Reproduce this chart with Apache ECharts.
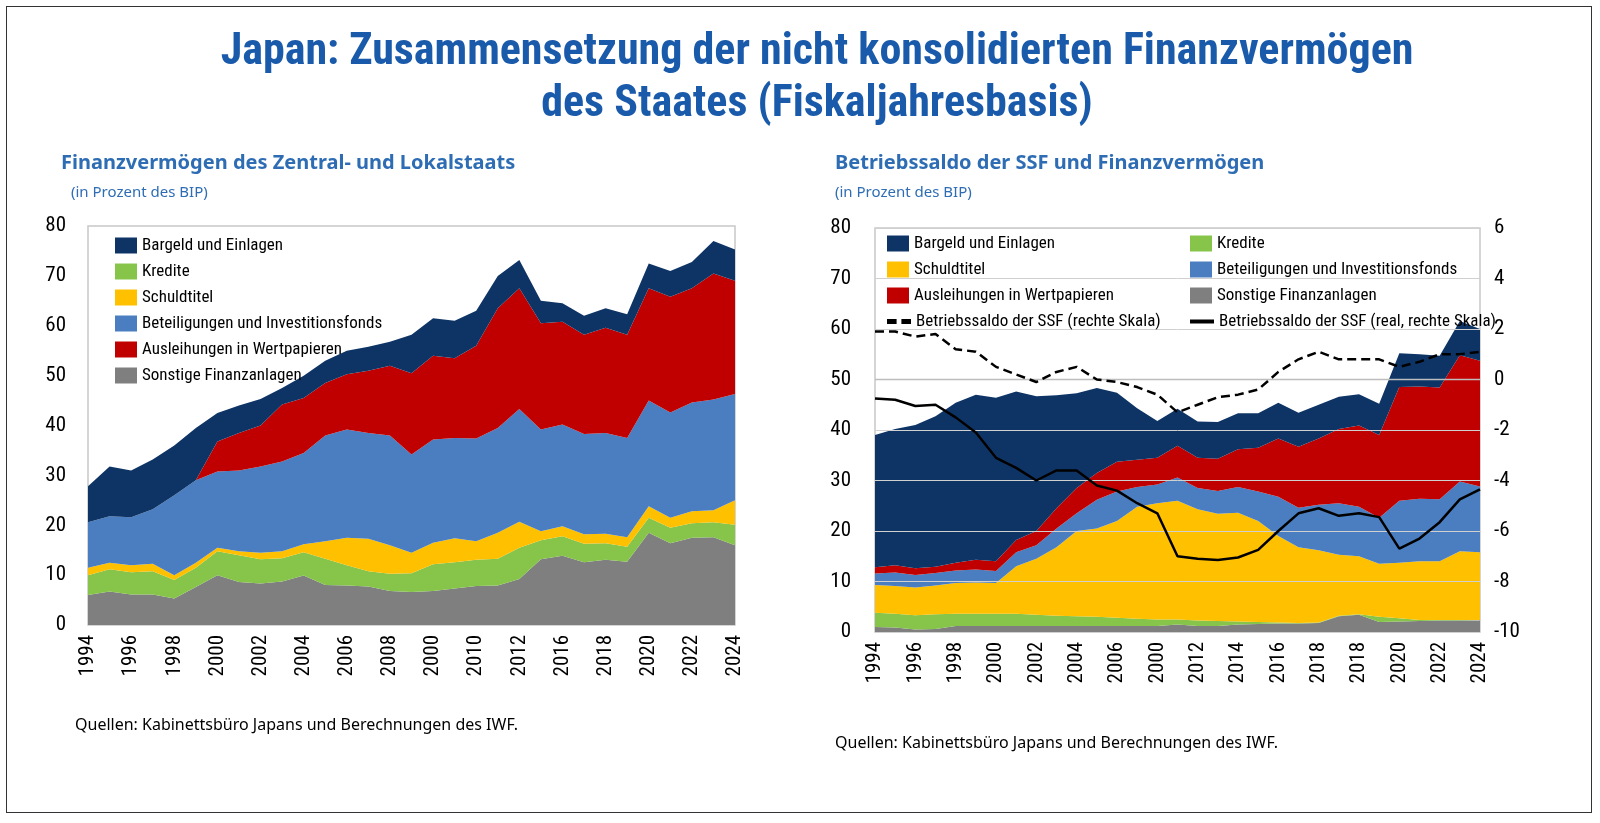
<!DOCTYPE html>
<html><head><meta charset="utf-8">
<script src="https://cdn.jsdelivr.net/npm/echarts@6/dist/echarts.min.js"></script>
<style>
html,body{margin:0;padding:0;background:#fff;overflow:hidden;width:100%;height:100%;}
#frame{position:absolute;left:6px;top:6px;right:8px;bottom:10px;border:1.5px solid #333;}
#chart{position:absolute;left:0;top:0;width:1600px;height:823px;}
</style></head>
<body><div id="frame"></div><div id="chart"></div>
<script>
var years = [];
for (var y = 1994; y <= 2024; y++) years.push(String(y));
// tick labels as printed (every second year)
var leftTicks = ['1994','','1996','','1998','','2000','','2002','','2004','','2006','','2008','','2000','','2010','','2012','','2016','','2018','','2020','','2022','','2024'];
var rightTicks = ['1994','','1996','','1998','','2000','','2002','','2004','','2006','','2000','','2012','','2014','','2016','','2018','','2018','','2020','','2022','','2024'];

var names = ['Sonstige Finanzanlagen','Kredite','Schuldtitel','Beteiligungen und Investitionsfonds','Ausleihungen in Wertpapieren','Bargeld und Einlagen'];
var colors = ['#7f7f7f','#86c44a','#ffc000','#4a7ec0','#c00000','#0e3466'];

// left chart: layer thickness, % of GDP
var leftSonstige = [6.0,6.7,6.1,6.1,5.3,7.6,10.0,8.6,8.3,8.7,9.9,8.0,7.9,7.7,6.8,6.6,6.8,7.3,7.8,7.9,9.2,13.2,13.9,12.6,13.1,12.7,18.5,16.4,17.5,17.6,16.0];
var leftKredite = [4.0,4.5,4.5,4.7,3.7,3.9,4.8,5.4,4.9,4.7,4.7,5.3,4.1,3.1,3.5,3.8,5.4,5.3,5.3,5.4,6.3,3.8,3.9,3.7,3.3,3.0,3.0,3.1,2.9,3.0,4.1];
var leftSchuld = [1.5,1.3,1.4,1.5,1.0,1.0,0.7,0.8,1.3,1.4,1.6,3.5,5.5,6.5,5.7,4.1,4.3,4.8,3.7,5.2,5.2,1.8,2.0,1.9,1.9,1.9,2.3,2.0,2.4,2.4,4.9];
var leftBeteil = [9.1,9.3,9.6,10.9,16.0,16.5,15.3,16.2,17.3,18.0,18.3,21.2,21.7,21.2,22.0,19.7,20.7,20.1,20.6,21.0,22.6,20.4,20.4,20.1,20.2,19.9,21.2,21.1,21.8,22.2,21.3];
var leftAusl = [0,0,0,0,0,0,6.0,7.5,8.2,11.4,11.0,10.5,11.1,12.5,14.0,16.3,16.8,16.0,18.6,24.0,24.2,21.3,20.6,19.9,21.1,20.7,22.5,23.2,22.9,25.3,22.7];
var leftBargeld = [7.2,10.0,9.4,10.0,10.0,10.5,5.7,5.5,5.3,3.3,4.5,4.5,4.7,4.8,4.8,7.7,7.5,7.5,7.0,6.5,5.7,4.5,3.7,3.8,3.9,4.1,5.0,5.2,5.3,6.5,6.3];

// right chart: layer thickness, % of GDP
var rightSonstige = [1.0,0.9,0.5,0.6,1.2,1.2,1.2,1.2,1.2,1.2,1.2,1.2,1.2,1.2,1.2,1.5,1.2,1.2,1.5,1.6,1.7,1.7,1.8,3.1,3.4,2.0,2.1,2.2,2.3,2.3,2.3];
var rightKredite = [2.8,2.7,2.8,2.9,2.4,2.4,2.4,2.4,2.2,2.0,1.9,1.8,1.6,1.4,1.3,1.0,1.1,1.0,0.6,0.4,0.2,0.1,0.1,0.1,0.1,1.0,0.6,0.2,0.1,0.1,0.1];
var rightSchuld = [5.5,5.5,5.5,5.7,6.1,6.2,6.1,9.4,11.1,13.6,16.9,17.5,19.2,22.2,23.0,23.5,22.0,21.2,21.5,20.0,17.1,15.0,14.3,12.1,11.5,10.5,11.0,11.6,11.6,13.6,13.4];
var rightBeteil = [2.3,2.7,2.5,2.5,2.5,2.6,2.4,2.8,2.7,3.7,3.5,5.7,5.8,3.9,3.7,4.6,4.2,4.5,5.1,5.8,7.8,7.8,9.0,10.2,9.8,9.1,12.3,12.4,12.3,13.8,13.0];
var rightAusl = [1.2,1.4,1.3,1.2,1.5,1.9,1.9,2.4,2.8,4.0,5.0,5.3,5.9,5.4,5.3,6.3,6.0,6.4,7.5,8.7,11.5,12.1,13.1,14.7,16.1,16.4,22.5,22.2,22.1,25.0,24.9];
var rightBargeld = [26.2,27.0,28.4,29.8,31.7,32.7,32.4,29.4,26.7,22.4,18.8,16.8,13.7,10.2,7.3,7.3,7.2,7.3,7.1,6.8,7.1,6.7,6.7,6.4,6.2,6.2,6.7,6.4,6.3,6.8,6.3];
// right scale lines
var ssfNominal = [1.9,1.9,1.7,1.8,1.2,1.1,0.5,0.2,-0.1,0.3,0.5,0.0,-0.1,-0.3,-0.6,-1.3,-1.0,-0.7,-0.6,-0.4,0.3,0.8,1.1,0.8,0.8,0.8,0.5,0.7,1.0,1.0,1.1];
var ssfReal = [-0.75,-0.8,-1.05,-1.0,-1.5,-2.1,-3.1,-3.5,-4.0,-3.6,-3.6,-4.2,-4.4,-4.9,-5.3,-7.0,-7.1,-7.15,-7.05,-6.75,-6.0,-5.3,-5.1,-5.4,-5.3,-5.45,-6.7,-6.3,-5.65,-4.75,-4.35];

var leftData = [leftSonstige,leftKredite,leftSchuld,leftBeteil,leftAusl,leftBargeld];
var rightData = [rightSonstige,rightKredite,rightSchuld,rightBeteil,rightAusl,rightBargeld];

var font = 'Liberation Sans Narrow, Roboto Condensed, Noto Sans, sans-serif';

function xAxis(idx, ticks) {
  return {type:'category', gridIndex:idx, data:years, boundaryGap:false,
    axisLine:{show:false}, axisTick:{show:false},
    axisLabel:{interval:0, rotate:90, fontSize:21, color:'#000', fontFamily:font, margin:10,
      formatter:function(v,i){return ticks[i];}}};
}

var series = [];
names.forEach(function(n,i){
  series.push({name:n, type:'line', stack:'L', xAxisIndex:0, yAxisIndex:0, data:leftData[i],
    symbol:'none', lineStyle:{width:0}, areaStyle:{color:colors[i], opacity:1}, itemStyle:{color:colors[i]}});
  series.push({name:n+' ', type:'line', stack:'R', xAxisIndex:1, yAxisIndex:1, data:rightData[i],
    symbol:'none', lineStyle:{width:0}, areaStyle:{color:colors[i], opacity:1}, itemStyle:{color:colors[i]}, z:2});
});
series.push({name:'Betriebssaldo der SSF (rechte Skala)', type:'line', xAxisIndex:1, yAxisIndex:2, data:ssfNominal,
  symbol:'none', lineStyle:{color:'#000', width:2.5, type:[9,5]}, itemStyle:{color:'#000'}, z:5});
series.push({name:'Betriebssaldo der SSF (real, rechte Skala)', type:'line', xAxisIndex:1, yAxisIndex:2, data:ssfReal,
  symbol:'none', lineStyle:{color:'#000', width:2.5}, itemStyle:{color:'#000'}, z:5});
// zero line of the right scale
series.push({type:'line', xAxisIndex:1, yAxisIndex:2, data:years.map(function(){return 0;}), symbol:'none',
  lineStyle:{color:'#bdbdbd', width:1.5}, z:4, silent:true});

var legTxt = {fontFamily:font, fontSize:17, color:'#000'};
function leg(items, left, top) {
  return {data:items.map(function(n){return {name:n, icon:'rect'};}), left:left, top:top, orient:'vertical',
    itemWidth:22, itemHeight:16, itemGap:9, textStyle:legTxt, selectedMode:false};
}

var option = {
  animation:false,
  title:[
    {text:'Japan: Zusammensetzung der nicht konsolidierten Finanzvermögen\ndes Staates (Fiskaljahresbasis)', left:812, top:22,
      textAlign:'center', textStyle:{fontFamily:font, fontSize:44, fontWeight:'bold', color:'#1a5aaa', lineHeight:52, align:'center'}},
    {text:'Finanzvermögen des Zentral- und Lokalstaats', left:56, top:148, textStyle:{fontFamily:'Noto Sans', fontSize:20, fontWeight:'bold', color:'#2e6db4'}},
    {text:'(in Prozent des BIP)', left:66, top:180, textStyle:{fontFamily:'Noto Sans', fontSize:15, fontWeight:'normal', color:'#2e6db4'}},
    {text:'Betriebssaldo der SSF und Finanzvermögen', left:830, top:148, textStyle:{fontFamily:'Noto Sans', fontSize:20, fontWeight:'bold', color:'#2e6db4'}},
    {text:'(in Prozent des BIP)', left:830, top:180, textStyle:{fontFamily:'Noto Sans', fontSize:15, fontWeight:'normal', color:'#2e6db4'}},
    {text:'Quellen: Kabinettsbüro Japans und Berechnungen des IWF.', left:70, top:712, textStyle:{fontFamily:'Noto Sans', fontSize:16, fontWeight:'normal', color:'#000'}},
    {text:'Quellen: Kabinettsbüro Japans und Berechnungen des IWF.', left:830, top:730, textStyle:{fontFamily:'Noto Sans', fontSize:16, fontWeight:'normal', color:'#000'}}
  ],
  legend:[
    leg(['Bargeld und Einlagen','Kredite','Schuldtitel','Beteiligungen und Investitionsfonds','Ausleihungen in Wertpapieren','Sonstige Finanzanlagen'], 110, 232),
    leg(['Bargeld und Einlagen ','Schuldtitel ','Ausleihungen in Wertpapieren '], 882, 230),
    leg(['Kredite ','Beteiligungen und Investitionsfonds ','Sonstige Finanzanlagen '], 1185, 230),
    {data:[{name:'Betriebssaldo der SSF (rechte Skala)', icon:'path://M0,6H8V10H0Z M12,6H20V10H12Z'}], left:882, top:308, itemWidth:24, itemHeight:14, textStyle:legTxt, selectedMode:false},
    {data:[{name:'Betriebssaldo der SSF (real, rechte Skala)', icon:'path://M0,6H24V10H0Z'}], left:1185, top:308, itemWidth:24, itemHeight:14, textStyle:legTxt, selectedMode:false}
  ],
  grid:[
    {left:88, top:226, width:647, height:399, show:true, borderColor:'#c8c8c8', borderWidth:1.5, backgroundColor:'transparent'},
    {left:875, top:228, width:605, height:404, show:true, borderColor:'#c8c8c8', borderWidth:1.5, backgroundColor:'transparent'}
  ],
  xAxis:[xAxis(0, leftTicks), xAxis(1, rightTicks)],
  yAxis:[
    {type:'value', gridIndex:0, min:0, max:80, interval:10, axisLabel:{fontSize:21, color:'#000', fontFamily:font, margin:22},
      axisLine:{show:false}, axisTick:{show:false}, splitLine:{show:false}},
    {type:'value', gridIndex:1, min:0, max:80, interval:10, axisLabel:{fontSize:21, color:'#000', fontFamily:font, margin:24},
      axisLine:{show:false}, axisTick:{show:false}, splitLine:{show:true, lineStyle:{color:'#d0d0d0', width:1}}, z:3},
    {type:'value', gridIndex:1, position:'right', min:-10, max:6, interval:2, axisLabel:{fontSize:21, color:'#000', fontFamily:font, margin:14},
      axisLine:{show:false}, axisTick:{show:false}, splitLine:{show:false}}
  ],
  series:series
};

var chart = echarts.init(document.getElementById('chart'));
chart.setOption(option);
</script></body></html>
